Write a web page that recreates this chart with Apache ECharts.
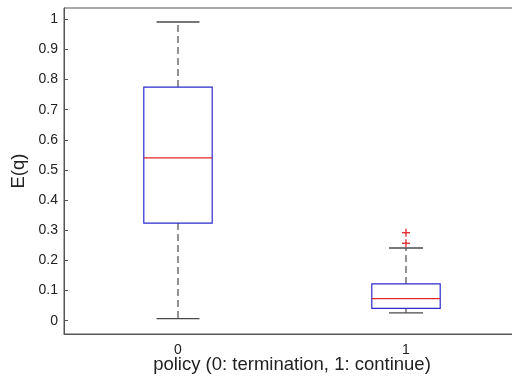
<!DOCTYPE html>
<html>
<head>
<meta charset="utf-8">
<script src="https://cdn.jsdelivr.net/npm/echarts@6/dist/echarts.min.js"></script>
<style>
html,body{margin:0;padding:0;background:#fff;}
#c{width:512px;height:376px;}
</style>
</head>
<body>
<div id="c"></div>
<script>
// ---- data ----
const categories = ['0', '1'];
const lowerWhisker = [0.007, 0.026];
const q1 = [0.324, 0.041];
const median = [0.540, 0.073];
const q3 = [0.775, 0.122];
const upperWhisker = [0.991, 0.241];
const outlierCategory = [1, 1];
const outlierValue = [0.292, 0.257];
const yTickValues = [0, 0.1, 0.2, 0.3, 0.4, 0.5, 0.6, 0.7, 0.8, 0.9, 1];

const boxData = categories.map((c, i) => [i, lowerWhisker[i], q1[i], median[i], q3[i], upperWhisker[i]]);
const outlierData = outlierCategory.map((c, i) => [c, outlierValue[i]]);

const BOX_FRAC = 0.3;
const CAP_PX = [43, 34];
const axisColor = '#555';
const font = 'Liberation Sans, Arial, Helvetica, sans-serif';

function renderBox(params, api) {
  const idx = api.value(0);
  const band = api.size([1, 0])[0];
  const half = band * BOX_FRAC / 2;
  const capHalf = CAP_PX[idx] / 2;
  const pLow = api.coord([idx, api.value(1)]);
  const pQ1 = api.coord([idx, api.value(2)]);
  const pMed = api.coord([idx, api.value(3)]);
  const pQ3 = api.coord([idx, api.value(4)]);
  const pUp = api.coord([idx, api.value(5)]);
  const x = pMed[0];
  const whisk = {stroke: '#4a4a4a', lineWidth: 1.2, lineDash: [7, 4]};
  const cap = {stroke: '#4a4a4a', lineWidth: 1.4};
  return {
    type: 'group',
    children: [
      {type: 'line', shape: {x1: x, y1: pQ3[1], x2: x, y2: pUp[1]}, style: whisk},
      {type: 'line', shape: {x1: x, y1: pQ1[1], x2: x, y2: pLow[1]}, style: whisk},
      {type: 'line', shape: {x1: x - capHalf, y1: pUp[1], x2: x + capHalf, y2: pUp[1]}, style: cap},
      {type: 'line', shape: {x1: x - capHalf, y1: pLow[1], x2: x + capHalf, y2: pLow[1]}, style: cap},
      {type: 'rect', shape: {x: x - half, y: pQ3[1], width: 2 * half, height: pQ1[1] - pQ3[1]},
        style: {fill: 'none', stroke: '#2b2bd0', lineWidth: 1.2}},
      {type: 'line', shape: {x1: x - half, y1: pMed[1], x2: x + half, y2: pMed[1]},
        style: {stroke: '#e3262a', lineWidth: 1.2}}
    ]
  };
}

function renderOutlier(params, api) {
  const p = api.coord([api.value(0), api.value(1)]);
  const s = 4;
  const st = {stroke: '#e3262a', lineWidth: 1.3};
  return {
    type: 'group',
    children: [
      {type: 'line', shape: {x1: p[0] - s, y1: p[1], x2: p[0] + s, y2: p[1]}, style: st},
      {type: 'line', shape: {x1: p[0], y1: p[1] - s, x2: p[0], y2: p[1] + s}, style: st}
    ]
  };
}

const chart = echarts.init(document.getElementById('c'), null, {renderer: 'canvas'});
chart.setOption({
  animation: false,
  backgroundColor: '#fff',
  grid: {left: 64, top: 8, width: 456, height: 326, show: true, borderColor: axisColor, borderWidth: 1,
    backgroundColor: '#fff', containLabel: false, outerBoundsMode: 'none'},
  xAxis: {
    type: 'category',
    data: categories,
    boundaryGap: true,
    axisLine: {onZero: false, lineStyle: {color: axisColor, width: 1}},
    axisTick: {show: false},
    axisLabel: {color: '#222', fontSize: 14, fontFamily: font, margin: 9},
    splitLine: {show: false},
    name: 'policy (0: termination, 1: continue)',
    nameLocation: 'middle',
    nameGap: 21,
    nameMoveOverlap: false,
    nameTextStyle: {color: '#222', fontSize: 18.5, fontFamily: font}
  },
  yAxis: {
    type: 'value',
    min: -0.0441,
    max: 1.0375,
    axisLine: {show: true, onZero: false, lineStyle: {color: axisColor, width: 1}},
    axisTick: {show: true, inside: true, length: 4, customValues: yTickValues, lineStyle: {color: axisColor}},
    axisLabel: {color: '#222', fontSize: 14, fontFamily: font, margin: 6, customValues: yTickValues,
      formatter: v => String(Math.round(v * 10) / 10)},
    splitLine: {show: false},
    name: 'E(q)',
    nameLocation: 'middle',
    nameGap: 36,
    nameMoveOverlap: false,
    nameTextStyle: {color: '#222', fontSize: 18.5, fontFamily: font}
  },
  series: [
    {type: 'custom', renderItem: renderBox, data: boxData, encode: {x: 0, y: [1, 2, 3, 4, 5]}, clip: false},
    {type: 'custom', renderItem: renderOutlier, data: outlierData, encode: {x: 0, y: 1}, clip: false}
  ]
});
</script>
</body>
</html>
